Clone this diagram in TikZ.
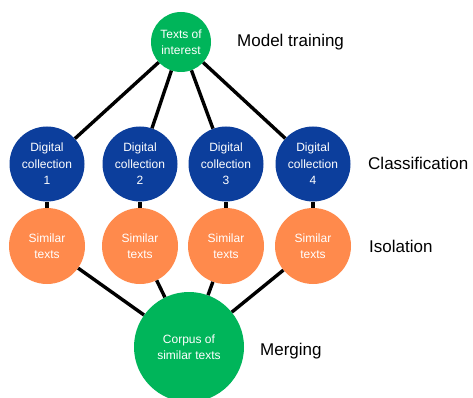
\documentclass[tikz,border=0pt]{standalone}
\usepackage{fontspec}
\setmainfont{Liberation Sans}
\definecolor{cgreen}{RGB}{0,181,90}
\definecolor{cblue}{RGB}{12,62,156}
\definecolor{corange}{RGB}{255,138,76}
\begin{document}
\begin{tikzpicture}[x=1pt,y=-1pt,
  circ/.style={circle,inner sep=0pt,text=white,align=center,font=\fontsize{12}{16.5}\selectfont},
  gnode/.style={circ,fill=cgreen},
  bnode/.style={circ,fill=cblue,minimum size=75pt},
  onode/.style={circ,fill=corange,minimum size=76pt},
  lab/.style={anchor=west,font=\fontsize{17}{20}\selectfont,text=black,inner sep=0pt},
  link/.style={line width=3.4pt,black}]
\useasboundingbox (0,0) rectangle (473,398);
\node[gnode,minimum size=60pt] (top) at (181,42) {Texts of\\interest};
\node[bnode] (d1) at (47,164) {Digital\\collection\\1};
\node[bnode] (d2) at (140,164) {Digital\\collection\\2};
\node[bnode] (d3) at (226,164) {Digital\\collection\\3};
\node[bnode] (d4) at (313,164) {Digital\\collection\\4};
\node[onode] (s1) at (47,246) {Similar\\texts};
\node[onode] (s2) at (140,246) {Similar\\texts};
\node[onode] (s3) at (226,246) {Similar\\texts};
\node[onode] (s4) at (313,246) {Similar\\texts};
\node[gnode,minimum size=110pt] (c) at (189,347) {Corpus of\\similar texts};
\foreach \i in {1,2,3,4}{
  \draw[link] (top) -- (d\i);
  \draw[link] (d\i) -- (s\i);
  \draw[link] (s\i) -- (c);
}
\node[lab] (l1) at (237,42) {Model training};
\node[lab] (l2) at (368,163) {Classification};
\node[lab] (l3) at (369,246) {Isolation};
\node[lab] (l4) at (260,351) {Merging};
\end{tikzpicture}
\end{document}
